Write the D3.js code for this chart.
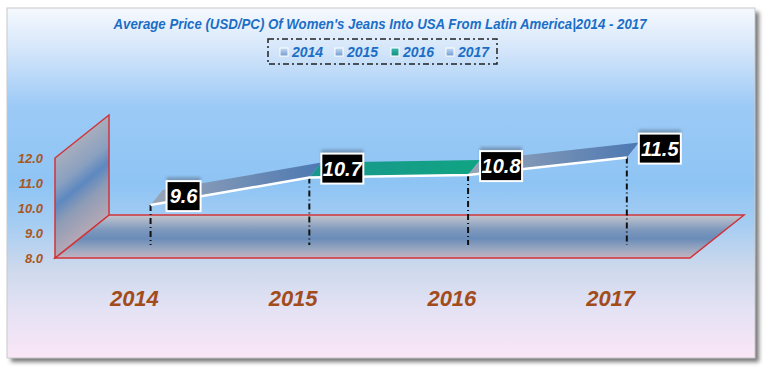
<!DOCTYPE html>
<html>
<head>
<meta charset="utf-8">
<script src="https://cdn.jsdelivr.net/npm/d3@7"></script>
<style>
  html, body { margin:0; padding:0; background:#ffffff; }
  svg { display:block; }
</style>
</head>
<body>
<svg id="chart" width="768" height="372"></svg>
<script>
// --------------------------------
// data
// --------------------------------
var years = ["2014", "2015", "2016", "2017"];
var prices = [9.6, 10.7, 10.8, 11.5];
var yTicks = [8, 9, 10, 11, 12];
var seriesColors = ["#4f7fb8", "#4f7fb8", "#17a08c", "#4f7fb8"];

var szTitle = "Average Price (USD/PC) Of Women's Jeans Into USA From Latin America|2014 - 2017";

// --------------------------------
// layout
// --------------------------------
var W = 768, H = 372;
var depthX = 54, depthY = -43;      // offset of the back plane
var lineDepth = 0.3;                // where the ribbon sits in depth
var ribbonDX = 12, ribbonDY = -15;  // thickness of the ribbon

var svg = d3.select("#chart");
var defs = svg.append("defs");

var x = d3.scaleBand().domain(years).range([55, 690]);
var y = d3.scaleLinear().domain([8, 12]).range([258, 158]);

var proj = function(px, py, d){
	return [px + depthX*d, py + depthY*d];
};
var cx = function(yr){ return x(yr) + x.bandwidth()/2; };

// --------------------------------
// gradients
// --------------------------------
var __gradient = function(id, x1, y1, x2, y2, stops, user){
	var g = defs.append("linearGradient")
		.attr("id", id)
		.attr("x1", x1).attr("y1", y1)
		.attr("x2", x2).attr("y2", y2);
	if (user){
		g.attr("gradientUnits", "userSpaceOnUse");
	}
	stops.forEach(function(s){
		g.append("stop").attr("offset", s[0]).attr("stop-color", s[1]);
	});
};

__gradient("bgGrad", "0%", "0%", "0%", "100%", [
	[0, "#f6f9fe"], [0.12, "#d4e6fa"], [0.28, "#9ccaf6"], [0.5, "#8ec4f4"],
	[0.62, "#a6cdf2"], [0.74, "#ccd8ec"], [0.86, "#e4e2f4"], [1, "#fae6f6"]
]);
// wall bands run parallel to the top edge of the wall
__gradient("wallGrad", 82, 136, 131, 197, [
	[0, "#a8aebd"], [0.3, "#8aa0c0"], [0.48, "#5d88c0"], [0.68, "#8e9cb6"], [1, "#b4a8b6"]
], true);
__gradient("floorGrad", "0%", "0%", "0%", "100%", [
	[0, "#c4c6ce"], [0.35, "#7d98bc"], [0.55, "#6a8cb8"], [0.8, "#9aa8c0"], [1, "#c6b2c0"]
]);
__gradient("ribBlue", "0%", "0%", "100%", "0%", [
	[0, "#9aa6b8"], [1, "#4c78b2"]
]);
__gradient("ribTeal", "0%", "0%", "100%", "0%", [
	[0, "#1a968e"], [1, "#10a482"]
]);
__gradient("legBlue", "0%", "0%", "0%", "100%", [
	[0, "#c8dcf4"], [1, "#6f9ad0"]
]);
__gradient("legTeal", "0%", "0%", "0%", "100%", [
	[0, "#3ab8b0"], [1, "#10907e"]
]);

var shadow = defs.append("filter").attr("id", "shadow")
	.attr("x", "-5%").attr("y", "-5%").attr("width", "110%").attr("height", "110%");
shadow.append("feGaussianBlur").attr("stdDeviation", 2);

var soft = defs.append("filter").attr("id", "soft")
	.attr("x", "-30%").attr("y", "-30%").attr("width", "160%").attr("height", "160%");
soft.append("feGaussianBlur").attr("stdDeviation", 1.5);

// --------------------------------
// frame and background
// --------------------------------
svg.append("rect")
	.attr("x", 11).attr("y", 12).attr("width", 748).attr("height", 350)
	.attr("fill", "#777777").attr("filter", "url(#shadow)");
svg.append("rect")
	.attr("x", 7).attr("y", 8).attr("width", 748).attr("height", 350)
	.attr("fill", "url(#bgGrad)")
	.attr("stroke", "#c8c8cc").attr("stroke-width", 1);

// --------------------------------
// title
// --------------------------------
svg.append("text")
	.attr("x", 380).attr("y", 29)
	.attr("text-anchor", "middle")
	.attr("textLength", 533)
	.attr("lengthAdjust", "spacingAndGlyphs")
	.attr("style", "font-family:'Liberation Sans',Arial;font-size:14px;font-weight:bold;font-style:italic;fill:#1b6ec6")
	.text(szTitle);

// --------------------------------
// legend
// --------------------------------
svg.append("rect")
	.attr("x", 268).attr("y", 39).attr("width", 229).attr("height", 25)
	.attr("fill", "none")
	.attr("stroke", "#222222").attr("stroke-width", 1.5)
	.attr("stroke-dasharray", "6,3,2,3");

var legX = [280, 335, 391, 446];
var leg = svg.selectAll("g.leg").data(years).enter().append("g")
	.attr("class", "leg")
	.attr("transform", function(d, i){ return "translate(" + legX[i] + ",52)"; });
leg.append("rect")
	.attr("x", 0).attr("y", -4).attr("width", 8).attr("height", 8)
	.attr("fill", function(d, i){ return seriesColors[i] == "#17a08c" ? "url(#legTeal)" : "url(#legBlue)"; })
	.attr("stroke", "#ffffff").attr("stroke-width", 1);
leg.append("text")
	.attr("x", 12).attr("y", 5)
	.attr("style", "font-family:'Liberation Sans',Arial;font-size:14px;font-weight:bold;font-style:italic;fill:#1b6ec6")
	.text(function(d){ return d; });

// --------------------------------
// side wall and floor
// --------------------------------
var x0 = x.range()[0], x1 = x.range()[1];
var wall = [proj(x0, y(12), 0), proj(x0, y(12), 1), proj(x0, y(8), 1), proj(x0, y(8), 0)];
var floor = [proj(x0, y(8), 0), proj(x1, y(8), 0), proj(x1, y(8), 1), proj(x0, y(8), 1)];

svg.append("path")
	.attr("d", "M" + floor.join("L") + "Z")
	.attr("fill", "url(#floorGrad)")
	.attr("stroke", "#d0343a").attr("stroke-width", 1.5);
svg.append("path")
	.attr("d", "M" + wall.join("L") + "Z")
	.attr("fill", "url(#wallGrad)")
	.attr("stroke", "#d0343a").attr("stroke-width", 1.5);

// y axis labels
svg.selectAll("text.ytick").data(yTicks).enter().append("text")
	.attr("class", "ytick")
	.attr("x", 43)
	.attr("y", function(d){ return y(d) + 5; })
	.attr("text-anchor", "end")
	.attr("style", "font-family:'Liberation Sans',Arial;font-size:13px;font-weight:bold;font-style:italic;fill:#a9571f")
	.text(function(d){ return d3.format(".1f")(d); });

// category labels
svg.selectAll("text.xcat").data(years).enter().append("text")
	.attr("class", "xcat")
	.attr("x", function(d){ return cx(d); })
	.attr("y", 306)
	.attr("text-anchor", "middle")
	.attr("style", "font-family:'Liberation Sans',Arial;font-size:22px;font-weight:bold;font-style:italic;fill:#a24c1c")
	.text(function(d){ return d; });

// --------------------------------
// drop lines
// --------------------------------
var pts = years.map(function(yr, i){ return proj(cx(yr), y(prices[i]), lineDepth); });
var floorY = proj(0, y(8), lineDepth)[1];

svg.selectAll("line.drop").data(pts).enter().append("line")
	.attr("class", "drop")
	.attr("x1", function(d){ return d[0]; }).attr("y1", function(d){ return d[1]; })
	.attr("x2", function(d){ return d[0]; }).attr("y2", floorY)
	.attr("stroke", "#111111").attr("stroke-width", 2)
	.attr("stroke-dasharray", "6,3,1,3");

// --------------------------------
// ribbon
// --------------------------------
for (var i = 0; i < pts.length - 1; i++){
	var a = pts[i], b = pts[i+1];
	var poly = [a, b, [b[0] + ribbonDX, b[1] + ribbonDY], [a[0] + ribbonDX, a[1] + ribbonDY]];
	svg.append("path")
		.attr("d", "M" + poly.join("L") + "Z")
		.attr("fill", seriesColors[i+1] == "#17a08c" ? "url(#ribTeal)" : "url(#ribBlue)")
		.attr("stroke", "none");
}
svg.append("path")
	.attr("d", d3.line()(pts))
	.attr("fill", "none")
	.attr("stroke", "#ffffff").attr("stroke-width", 2.5);

// --------------------------------
// data labels
// --------------------------------
var boxW = function(i){ return prices[i].toFixed(1).length > 3 ? 42 : 34; };
var lab = svg.selectAll("g.lab").data(pts).enter().append("g")
	.attr("class", "lab")
	.attr("transform", function(d){ return "translate(" + (d[0] + 33) + "," + (d[1] - 9) + ")"; });
// soft shadow above the box
lab.append("rect")
	.attr("x", function(d, i){ return -boxW(i)/2; })
	.attr("y", -19)
	.attr("width", function(d, i){ return boxW(i); })
	.attr("height", 12)
	.attr("fill", "#5a6a80").attr("opacity", 0.5)
	.attr("filter", "url(#soft)");
lab.append("rect")
	.attr("x", function(d, i){ return -boxW(i)/2; })
	.attr("y", -15)
	.attr("width", function(d, i){ return boxW(i); })
	.attr("height", 30)
	.attr("fill", "#000000")
	.attr("stroke", "#ffffff").attr("stroke-width", 2);
lab.append("text")
	.attr("x", 0).attr("y", 7)
	.attr("text-anchor", "middle")
	.attr("style", "font-family:'Liberation Sans',Arial;font-size:20px;font-weight:bold;font-style:italic;fill:#ffffff")
	.text(function(d, i){ return prices[i].toFixed(1); });
</script>
</body>
</html>
